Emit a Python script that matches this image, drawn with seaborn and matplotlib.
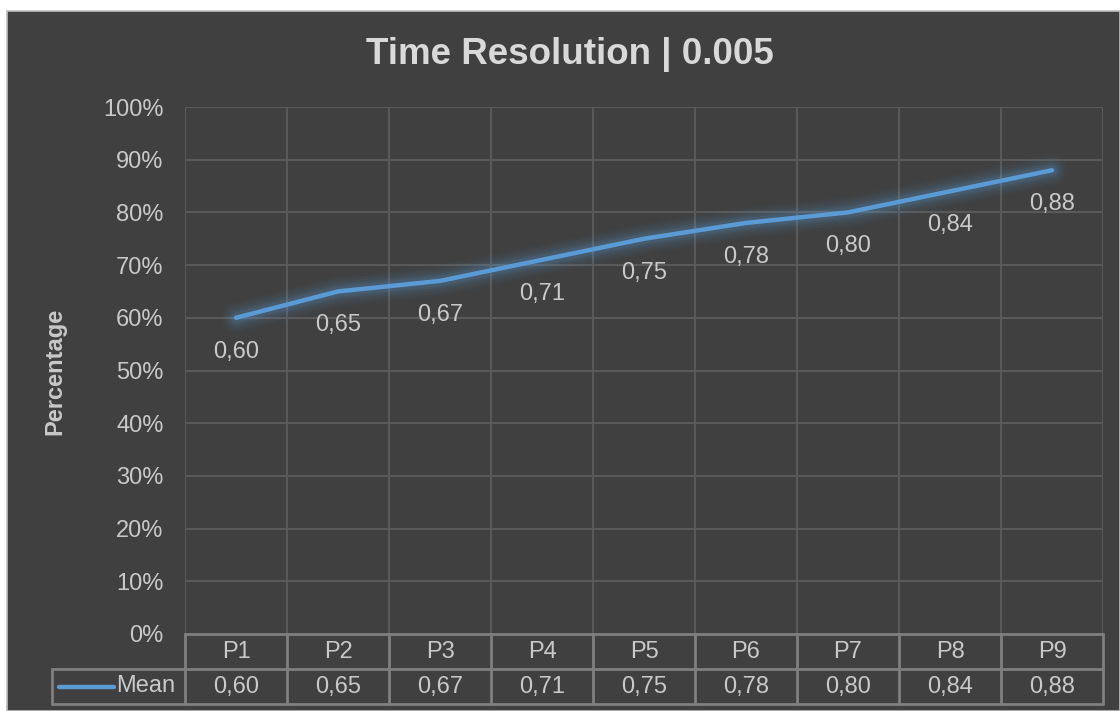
import numpy as np
import pandas as pd
import matplotlib
matplotlib.use("Agg")
import matplotlib.pyplot as plt
from matplotlib.patches import Rectangle
import seaborn as sns

# Data
periods = ["P1", "P2", "P3", "P4", "P5", "P6", "P7", "P8", "P9"]
mean_values = [0.60, 0.65, 0.67, 0.71, 0.75, 0.78, 0.80, 0.84, 0.88]
y_ticks = [0.0, 0.1, 0.2, 0.3, 0.4, 0.5, 0.6, 0.7, 0.8, 0.9, 1.0]
series_name = "Mean"
title_text = "Time Resolution | 0.005"
y_label = "Percentage"

BG = "#404040"
GRID = "#595959"
TABLE_LINE = "#7f7f7f"
TEXT = "#c9c9c9"
TITLE = "#d9d9d9"
BLUE = "#5b9bd5"
FS = 17

sns.set_theme(style="dark")
plt.rcParams["font.family"] = ["Liberation Sans", "DejaVu Sans"]

W, H = 1120, 711
fig = plt.figure(figsize=(W / 100, H / 100), dpi=100, facecolor="white")

# dark chart area with a thin light frame, kept behind the axes
fig.patches.append(Rectangle((7 / W, 0), 1 - 7 / W, 1 - 11 / H, transform=fig.transFigure,
                             facecolor=BG, edgecolor="#bfbfbf", linewidth=1.2, zorder=-10))

px = lambda v: v / W
py = lambda v: 1 - v / H

left, right, top, bottom = 185, 1103, 107, 634
ax = fig.add_axes([px(left), py(bottom), px(right) - px(left), py(top) - py(bottom)])
ax.set_facecolor(BG)

df = pd.DataFrame({"period": periods, "value": mean_values, "x": np.arange(len(periods))})

# soft glow beneath the line
for lw, a in [(22, 0.035), (18, 0.05), (14, 0.07), (10.5, 0.09), (7.5, 0.12)]:
    ax.plot(df["x"], df["value"], color=BLUE, lw=lw, alpha=a, solid_capstyle="round",
            solid_joinstyle="round", zorder=3)
sns.lineplot(data=df, x="x", y="value", ax=ax, color=BLUE, lw=3.2, zorder=4,
             solid_capstyle="round")

# value labels below each point
for xi, v in zip(df["x"], df["value"]):
    ax.annotate(f"{v:.2f}".replace(".", ","), (xi, v), xytext=(0, -34),
                textcoords="offset pixels", ha="center", va="center",
                fontsize=FS, color=TEXT, zorder=5)

ax.set_xlim(-0.5, len(periods) - 0.5)
ax.set_ylim(0, 1)
ax.set_yticks(y_ticks)
ax.set_yticklabels([f"{int(round(t * 100))}%" for t in y_ticks], fontsize=FS, color=TEXT)
ax.tick_params(axis="y", length=0, pad=15.5)
ax.set_xticks([])
ax.set_xlabel("")
ax.set_ylabel("")
for s in ax.spines.values():
    s.set_visible(False)
ax.grid(False)
for t in y_ticks[1:]:
    ax.axhline(t, color=GRID, lw=1.5, zorder=1)
for b in np.arange(-0.5, len(periods), 1.0):
    ax.axvline(b, color=GRID, lw=1.5, zorder=1)

fig.text(px(55), py(371), y_label, rotation=90, ha="center", va="center",
         fontsize=17, fontweight="bold", color=TEXT)
fig.text(px(570), py(54), title_text, ha="center", va="center",
         fontsize=26.5, fontweight="bold", color=TITLE)

# data table beneath the plot, sharing the category positions
tab_bottom = 704
tax = fig.add_axes([px(left), py(tab_bottom), px(right) - px(left), py(bottom) - py(tab_bottom)],
                   sharex=ax)
tax.set_facecolor(BG)
tax.set_ylim(0, 2)
tax.axis("off")
n = len(periods)
col_px = (right - left) / n
legend_left = -0.5 - (left - 52) / col_px

line_kw = dict(color=TABLE_LINE, lw=2, clip_on=False, zorder=2)
tax.plot([-0.5, n - 0.5], [2, 2], **line_kw)
tax.plot([legend_left, n - 0.5], [1, 1], **line_kw)
tax.plot([legend_left, n - 0.5], [0, 0], **line_kw)
tax.plot([legend_left, legend_left], [0, 1], **line_kw)
for b in np.arange(-0.5, n, 1.0):
    tax.plot([b, b], [0, 2], **line_kw)

for xi, (p, v) in enumerate(zip(periods, mean_values)):
    tax.text(xi, 1.5, p, ha="center", va="center", fontsize=FS, color=TEXT)
    tax.text(xi, 0.5, f"{v:.2f}".replace(".", ","), ha="center", va="center",
             fontsize=FS, color=TEXT)

# legend key inside the table
key_x0 = legend_left + 7 / col_px
key_x1 = legend_left + 62 / col_px
tax.plot([key_x0, key_x1], [0.5, 0.5], color=BLUE, lw=3.2, clip_on=False,
         solid_capstyle="round", zorder=3)
tax.text(legend_left + 64 / col_px, 0.5, series_name, ha="left", va="center",
         fontsize=FS, color=TEXT, clip_on=False)

fig.savefig("out.png", dpi=100, facecolor="white")
